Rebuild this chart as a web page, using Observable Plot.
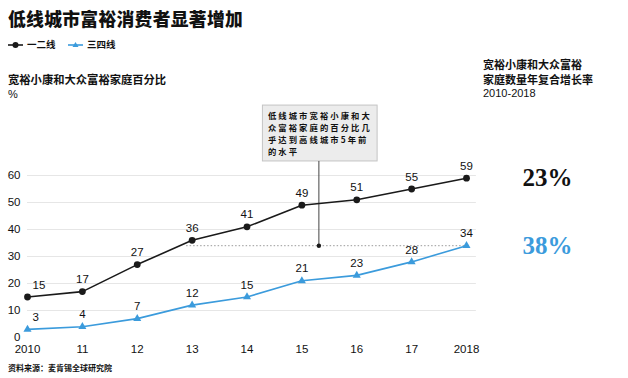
<!DOCTYPE html>
<html><head><meta charset="utf-8">
<script src="https://cdn.jsdelivr.net/npm/d3@7"></script>
<script src="https://cdn.jsdelivr.net/npm/@observablehq/plot@0.6"></script>
<style>
body{margin:0;background:#fff;}
#wrap{position:relative;width:628px;height:378px;overflow:hidden;font-family:"Noto Sans CJK SC",sans-serif;color:#111;}
.abs{position:absolute;white-space:nowrap;line-height:1;}
</style></head>
<body><div id="wrap"></div>
<script>
const years = [2010, 2011, 2012, 2013, 2014, 2015, 2016, 2017, 2018];
const yearLabels = ["2010", "11", "12", "13", "14", "15", "16", "17", "2018"];
const tier12 = [15, 17, 27, 36, 41, 49, 51, 55, 59];
const tier34 = [3, 4, 7, 12, 15, 21, 23, 28, 34];
const cagrLabels = ["23%", "38%"];
const yTicks = [0, 10, 20, 30, 40, 50, 60];
const titleText = "低线城市富裕消费者显著增加";
const legendNames = ["一二线", "三四线"];
const subtitleText = "宽裕小康和大众富裕家庭百分比";
const rightHeader = ["宽裕小康和大众富裕", "家庭数量年复合增长率", "2010-2018"];
const noteLines = ["低线城市宽裕小康和大", "众富裕家庭的百分比几", "乎达到高线城市5年前", "的水平"];
const sourceText = "资料来源：麦肯锡全球研究院";
const annotX = 2015.31, annotTop = 65.2, refLevel = 34, refStart = 2012.9;
const noteBox = {x1: 2014.29, x2: 2016.38, y1: 65.2, y2: 85.9};

const BLACK = "#1a1a1a", BLUE = "#3b9bdc";
const d12 = years.map((y, i) => ({year: y, v: tier12[i]}));
const d34 = years.map((y, i) => ({year: y, v: tier34[i]}));
const num = "Liberation Sans, Arial, sans-serif";

const plot = Plot.plot({
  width: 628, height: 378,
  marginTop: 175, marginBottom: 41, marginLeft: 27, marginRight: 162,
  style: {fontFamily: num, fontSize: "11.5px", color: "#111", background: "transparent", overflow: "visible"},
  x: {domain: [2010, 2018], ticks: years, tickFormat: (d) => yearLabels[years.indexOf(d)], tickSize: 0, tickPadding: 7, label: null},
  y: {domain: [0, 60], ticks: yTicks, tickSize: 0, tickPadding: 7, label: null},
  marks: [
    Plot.ruleY(yTicks.filter(t => t > 0), {x1: 2010, x2: 2018.18, stroke: "#e6e6e6", strokeWidth: 1}),
    Plot.ruleY([refLevel], {x1: refStart, x2: 2018, stroke: "#9a9a9a", strokeDasharray: "1.5,2", strokeWidth: 1}),
    Plot.rect([noteBox], {x1: "x1", x2: "x2", y1: "y1", y2: "y2", fill: "#ececec", stroke: "#c4c4c4", strokeWidth: 1}),
    Plot.text([{x: noteBox.x1, y: noteBox.y2, t: noteLines.join("\n")}], {x: "x", y: "y", text: "t", textAnchor: "start", lineAnchor: "top", dx: 5, dy: 5, lineHeight: 1.45, fontSize: 8.3, fontWeight: "bold", fill: "#111", fontFamily: "Noto Sans CJK SC, sans-serif"}),
    Plot.ruleX([annotX], {y1: refLevel, y2: annotTop, stroke: "#444", strokeWidth: 1}),
    Plot.dot([{x: annotX, y: refLevel}], {x: "x", y: "y", r: 2.2, fill: BLACK}),
    Plot.line(d34, {x: "year", y: "v", stroke: BLUE, strokeWidth: 1.6}),
    Plot.dot(d34, {x: "year", y: "v", symbol: "triangle", r: 3, fill: BLUE}),
    Plot.line(d12, {x: "year", y: "v", stroke: BLACK, strokeWidth: 1.6}),
    Plot.dot(d12, {x: "year", y: "v", r: 3.4, fill: BLACK}),
    Plot.text(d12.slice(0, 1), {x: "year", y: "v", text: "v", textAnchor: "start", dx: 5, dy: -12, fill: "#111", fontSize: 11.5}),
    Plot.text(d12.slice(1), {x: "year", y: "v", text: "v", dy: -12, fill: "#111", fontSize: 11.5}),
    Plot.text(d34.slice(0, 1), {x: "year", y: "v", text: "v", textAnchor: "start", dx: 5, dy: -12, fill: "#111", fontSize: 11.5}),
    Plot.text(d34.slice(1), {x: "year", y: "v", text: "v", dy: -12, fill: "#111", fontSize: 11.5}),
    Plot.text([{x: 2018, y: tier12[8], t: cagrLabels[0]}], {x: "x", y: "y", text: "t", dx: 81, fill: "#111", fontSize: 25, fontWeight: "bold", fontFamily: "Liberation Serif, serif"}),
    Plot.text([{x: 2018, y: tier34[8], t: cagrLabels[1]}], {x: "x", y: "y", text: "t", dx: 81, fill: BLUE, fontSize: 25, fontWeight: "bold", fontFamily: "Liberation Serif, serif"})
  ]
});
d3.select(plot).selectAll("text").filter(function () { return this.textContent.startsWith(noteLines[0]); }).attr("letter-spacing", "2.1");
plot.style.position = "absolute"; plot.style.left = "0"; plot.style.top = "0";
const wrap = document.getElementById("wrap");
wrap.appendChild(plot);

function add(html, css) {
  const d = document.createElement("div");
  d.className = "abs"; d.innerHTML = html; d.style.cssText += css; wrap.appendChild(d); return d;
}
add(titleText, "left:8px;top:10px;font-size:17.8px;font-weight:900;letter-spacing:0.3px;");
// legend
const leg = `<svg width="130" height="12" style="position:absolute;left:0;top:0;overflow:visible">
<line x1="0" x2="15" y1="6" y2="6" stroke="${BLACK}" stroke-width="1.6"/><circle cx="7.5" cy="6" r="3" fill="${BLACK}"/>
<line x1="60" x2="75" y1="6" y2="6" stroke="${BLUE}" stroke-width="1.6"/><path d="M67.5,3 L70.5,8 L64.5,8 Z" fill="${BLUE}"/></svg>
<span style="position:absolute;left:19px;top:1px">${legendNames[0]}</span><span style="position:absolute;left:79px;top:1px">${legendNames[1]}</span>`;
add(leg, "left:8px;top:39px;width:130px;height:12px;font-size:9.5px;font-weight:bold;");
add(subtitleText, "left:8px;top:74px;font-size:11.3px;font-weight:bold;");
add("%", "left:8px;top:89px;font-size:11px;font-family:" + num + ";");
add(rightHeader[0], "left:483px;top:59px;font-size:11px;font-weight:bold;");
add(rightHeader[1], "left:483px;top:74px;font-size:11px;font-weight:bold;");
add(rightHeader[2], "left:483px;top:88px;font-size:11px;font-family:" + num + ";");
add(sourceText, "left:8px;top:364px;font-size:8px;font-weight:bold;");
</script></body></html>
